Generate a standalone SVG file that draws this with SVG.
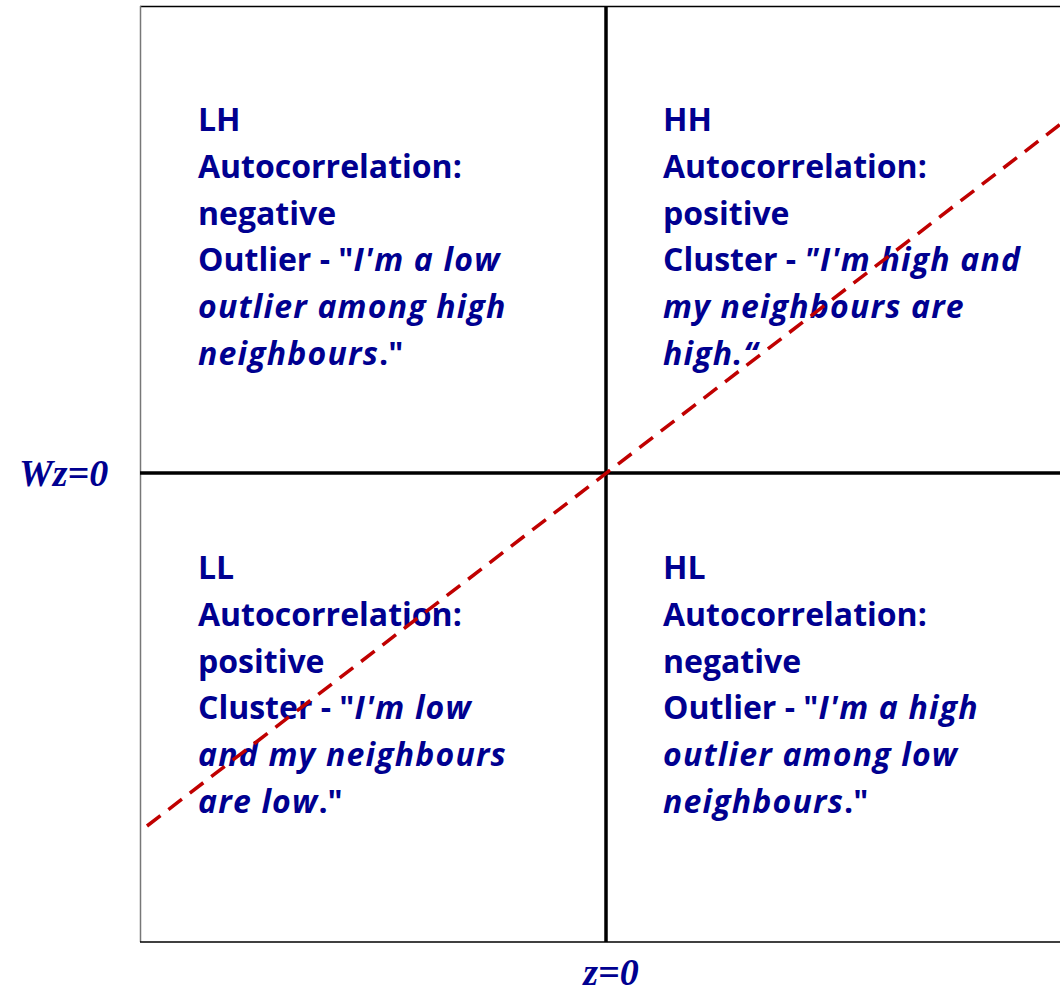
<svg xmlns="http://www.w3.org/2000/svg" width="1060" height="991" viewBox="0 0 1060 991">
<style>
.q{font-family:"Open Sans","Noto Sans",sans-serif;font-weight:700;font-size:32px;fill:#000090}
.i{font-style:italic;letter-spacing:1.2px}
.ax{font-family:"Liberation Serif",serif;font-weight:700;font-style:italic;font-size:38px;fill:#000090}
.axis{stroke:#000;stroke-width:3.5}
</style>
<rect width="1060" height="991" fill="#fff"/>
<g id="frame">
<line x1="140" y1="6.5" x2="1060" y2="6.5" stroke="#000" stroke-width="1.5"/>
<line x1="140.5" y1="6" x2="140.5" y2="942" stroke="#777" stroke-width="1.5"/>
<line x1="140" y1="942" x2="1060" y2="942" stroke="#000" stroke-width="1.5"/>
</g>
<g id="axes">
<line class="axis" x1="606" y1="6" x2="606" y2="942"/>
<line class="axis" x1="140" y1="473" x2="1060" y2="473"/>
</g>
<g id="LH">
<text class="q" x="198"><tspan x="198" y="131">LH</tspan><tspan x="198" y="178">Autocorrelation:</tspan><tspan x="198" y="224.5">negative</tspan><tspan x="198" y="271">Outlier - "<tspan class="i">I'm a low</tspan></tspan><tspan x="198" y="318" class="i">outlier among high</tspan><tspan x="198" y="364.5"><tspan class="i">neighbours</tspan>."</tspan></text>
</g>
<g id="HH">
<text class="q" x="663"><tspan x="663" y="131">HH</tspan><tspan x="663" y="178">Autocorrelation:</tspan><tspan x="663" y="224.5">positive</tspan><tspan x="663" y="271">Cluster - <tspan class="i">"I'm high and</tspan></tspan><tspan x="663" y="318" class="i">my neighbours are</tspan><tspan x="663" y="364.5" class="i">high.“</tspan></text>
</g>
<g id="LL">
<text class="q" x="198"><tspan x="198" y="579">LL</tspan><tspan x="198" y="626">Autocorrelation:</tspan><tspan x="198" y="672.5">positive</tspan><tspan x="198" y="719">Cluster - "<tspan class="i">I'm low</tspan></tspan><tspan x="198" y="766" class="i">and my neighbours</tspan><tspan x="198" y="812.5"><tspan class="i">are low</tspan>."</tspan></text>
</g>
<g id="HL">
<text class="q" x="663"><tspan x="663" y="579">HL</tspan><tspan x="663" y="626">Autocorrelation:</tspan><tspan x="663" y="672.5">negative</tspan><tspan x="663" y="719">Outlier - "<tspan class="i">I'm a high</tspan></tspan><tspan x="663" y="766" class="i">outlier among low</tspan><tspan x="663" y="812.5"><tspan class="i">neighbours</tspan>."</tspan></text>
</g>
<g id="connectors">
<line x1="147" y1="826" x2="1062" y2="123" stroke="#C00000" stroke-width="3.5" stroke-dasharray="17 10"/>
</g>
<g id="labels">
<text class="ax" x="19" y="486">Wz=0</text>
<text class="ax" x="611" y="985" text-anchor="middle">z=0</text>
</g>
</svg>
